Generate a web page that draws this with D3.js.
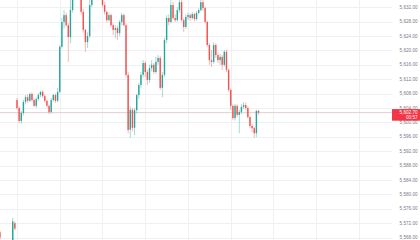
<!DOCTYPE html>
<html>
<head>
<meta charset="utf-8">
<script src="https://cdn.jsdelivr.net/npm/d3@7"></script>
<style>
  body { margin: 0; background: #ffffff; }
  #chart text { font-family: "Liberation Sans", Arial, sans-serif; }
</style>
</head>
<body>
<div id="chart"></div>
<script>
// Velas (1 min) - apertura, maximo, minimo, cierre
var opens  = [5569.5, 5566.8, 5563.5, 5562, 5564, 5565.5, 5566, 5572,
  5606.2, 5604, 5600.4, 5602.6, 5605.7, 5607, 5606, 5607.9, 5606.2, 5604.6,
  5606.5, 5607.6, 5608.5, 5607.3, 5606, 5604.6, 5602.9, 5606.2, 5607.6, 5606,
  5608.5, 5621, 5627.9, 5629.8, 5627, 5623.7, 5631.2, 5636, 5638, 5637,
  5635.5, 5630.7, 5625.7, 5622.3, 5624, 5632.6, 5636, 5638, 5640, 5639,
  5637, 5632.6, 5630.7, 5628.4, 5629.8, 5627, 5625.7, 5626.2, 5624.8, 5627.9,
  5629.8, 5627, 5613.2, 5598, 5603.5, 5598.5, 5603.4, 5607.6, 5610.4, 5613.2,
  5616.5, 5614, 5611.8, 5615.1, 5616, 5614, 5616.8, 5617.9, 5609.6, 5613.2,
  5622.9, 5629, 5627.9, 5632.6, 5629, 5628.4, 5631.2, 5633.4, 5628.4, 5626.5,
  5629.3, 5629.8, 5629, 5630.1, 5628.7, 5630.4, 5631.2, 5633.4, 5631.8, 5627.9,
  5621.5, 5617.3, 5616.8, 5621.5, 5618.7, 5617.3, 5618.2, 5616, 5619.6, 5614.6,
  5609, 5604.6, 5601.2, 5604.6, 5602.1, 5602.9, 5604.3, 5604.8, 5604, 5601.5,
  5599, 5598.4, 5597, 5603.2]
var highs  = [5570, 5567.1, 5565, 5564.5, 5566, 5566.5, 5573.5, 5572.5,
  5606.8, 5604.5, 5603.2, 5606.3, 5607.6, 5607.8, 5608.2, 5608.4, 5606.7, 5607,
  5608.2, 5608.7, 5608.9, 5607.8, 5606.4, 5605, 5606.8, 5607.9, 5608, 5609.6,
  5621.5, 5629, 5631.2, 5630.5, 5627.6, 5634.5, 5637, 5639, 5639.5, 5638,
  5636, 5631.5, 5626, 5625, 5634.5, 5637, 5639, 5641, 5641, 5640,
  5637.5, 5633.5, 5631, 5630.5, 5630.2, 5627.5, 5627, 5626.8, 5628.5, 5630.4,
  5630.2, 5627.5, 5614, 5604.5, 5604, 5604, 5608, 5611, 5614, 5617.3,
  5617, 5614.6, 5616, 5617.3, 5616.5, 5618.2, 5618.7, 5618.5, 5614, 5623.5,
  5629.8, 5630, 5634.2, 5633.5, 5630, 5632, 5635, 5634, 5629, 5630,
  5630.5, 5630.3, 5630.7, 5630.5, 5631, 5631.7, 5634.5, 5634.5, 5632.2, 5628.3,
  5622, 5620.1, 5622.3, 5622, 5619.3, 5619, 5618.7, 5620.1, 5620.2, 5615,
  5609.5, 5605, 5605.1, 5605, 5603.5, 5605.1, 5605.6, 5605.5, 5604.5, 5601.8,
  5599.5, 5598.8, 5603.5, 5603.5]
var lows   = [5567.5, 5562.5, 5561, 5560.5, 5563, 5563.5, 5565.5, 5570,
  5603.5, 5599.8, 5599.5, 5602, 5605, 5605.4, 5605.6, 5605.8, 5604.3, 5604,
  5606, 5607, 5606.8, 5605.5, 5604.2, 5602.3, 5602.5, 5605.8, 5605.4, 5605.6,
  5608, 5620.5, 5626, 5626.5, 5616.8, 5622, 5630.5, 5635, 5635.5, 5634.8,
  5630, 5625, 5619.6, 5620.7, 5623.5, 5632, 5635, 5637, 5638, 5636,
  5632, 5630, 5627.8, 5628, 5626.5, 5624.3, 5623.4, 5622.9, 5624, 5627,
  5626.5, 5612.5, 5597, 5595.7, 5597.5, 5596.5, 5602.5, 5606.5, 5609.5, 5612.5,
  5612.6, 5610.4, 5611, 5614.2, 5613.5, 5613.5, 5616, 5609, 5607, 5612.5,
  5622, 5627, 5627.5, 5628.5, 5627.9, 5628, 5630.5, 5628, 5625.1, 5626,
  5628.5, 5628.3, 5628.5, 5628, 5628.3, 5630, 5630.8, 5631, 5627.5, 5621,
  5616, 5615.4, 5616.3, 5617.9, 5616.5, 5616, 5614.6, 5615.5, 5614, 5608.5,
  5603.4, 5600.7, 5600.5, 5601.5, 5597, 5602.3, 5603.8, 5603.5, 5601, 5598.4,
  5597.3, 5595.7, 5595.9, 5602.2]
var closes = [5568, 5563.5, 5562, 5564, 5565.5, 5566, 5572.5, 5570.5,
  5604, 5600.4, 5602.6, 5605.7, 5607, 5606, 5607.9, 5606.2, 5604.6, 5606.5,
  5607.6, 5608.5, 5607.3, 5606, 5604.6, 5602.9, 5606.2, 5607.6, 5606, 5608.5,
  5621, 5627.9, 5629.8, 5627, 5623.7, 5631.2, 5636, 5638, 5637, 5635.5,
  5630.7, 5625.7, 5622.3, 5624, 5632.6, 5636, 5638, 5640, 5639, 5637,
  5632.6, 5630.7, 5628.4, 5629.8, 5627, 5625.7, 5626.2, 5624.8, 5627.9, 5629.8,
  5627, 5613.2, 5597.9, 5603.5, 5598.5, 5603.4, 5607.6, 5610.4, 5613.2, 5616.5,
  5614, 5611.8, 5615.1, 5616, 5614, 5616.8, 5617.9, 5609.6, 5613.2, 5622.9,
  5629, 5627.9, 5632.6, 5629, 5628.4, 5631.2, 5633.4, 5628.4, 5626.5, 5629.3,
  5629.8, 5629, 5630.1, 5628.7, 5630.4, 5631.2, 5633.4, 5631.8, 5627.9, 5621.5,
  5617.3, 5616.8, 5621.5, 5618.7, 5617.3, 5618.2, 5616, 5619.6, 5614.6, 5609,
  5604.6, 5601.2, 5604.6, 5602.1, 5602.9, 5604.3, 5604.8, 5604, 5601.5, 5599,
  5598.4, 5597, 5603.2, 5602.7]

// Etiquetas del eje de precios
var priceTicks = [5568, 5572, 5576, 5580, 5584, 5588, 5592, 5596, 5600,
  5604, 5608, 5612, 5616, 5620, 5624, 5628, 5632]
// Lineas verticales cada 20 velas
var timeTicks = [8, 28, 48, 68, 88, 108, 128, 148, 168]
var countdown = "00:57"

drawChart()

function drawChart() {
    //Crea Lienzo
    var width = 420
    var height = 240
    var plotRight = 392

    var svg = d3.select("#chart")
                .append("svg")
                .attr("width", width)
                .attr("height", height)

    var up = "#26a69a"
    var down = "#ef5350"

    //Escalas
    var x = d3.scaleLinear()
              .domain([0, 183])
              .range([-0.1, 391.06])
    var y = d3.scaleLinear()
              .domain([5634 - height / 3.6, 5634])
              .range([height, 0])

    svg.append("defs").append("clipPath")
       .attr("id", "plot")
       .append("rect")
       .attr("width", plotRight)
       .attr("height", height)

    //Cuadricula
    svg.append("g")
       .selectAll("line.h")
       .data(priceTicks)
       .enter()
       .append("line")
       .attr("x1", 0)
       .attr("x2", plotRight)
       .attr("y1", (d) => Math.round(y(d)) + 0.5)
       .attr("y2", (d) => Math.round(y(d)) + 0.5)
       .attr("stroke", "#eef0f3")
       .attr("stroke-width", 1)

    svg.append("g")
       .selectAll("line.v")
       .data(timeTicks)
       .enter()
       .append("line")
       .attr("x1", (d) => Math.round(x(d)) + 0.5)
       .attr("x2", (d) => Math.round(x(d)) + 0.5)
       .attr("y1", 0)
       .attr("y2", height)
       .attr("stroke", "#eef0f3")
       .attr("stroke-width", 1)

    //Linea del ultimo precio
    var last = closes.length - 1
    var lastPrice = closes[last]
    var lastUp = closes[last] >= opens[last]

    svg.append("line")
       .attr("x1", 0)
       .attr("x2", plotRight)
       .attr("y1", y(lastPrice))
       .attr("y2", y(lastPrice))
       .attr("stroke", "#dfcdcf")
       .attr("stroke-width", 1)

    //Velas
    var candles = d3.range(opens.length)
    var g = svg.append("g").attr("clip-path", "url(#plot)")

    g.selectAll("line.wick")
     .data(candles)
     .enter()
     .append("line")
     .attr("x1", (i) => x(i))
     .attr("x2", (i) => x(i))
     .attr("y1", (i) => y(highs[i]))
     .attr("y2", (i) => y(lows[i]))
     .attr("stroke", (i) => closes[i] >= opens[i] ? up : down)
     .attr("stroke-opacity", 0.7)
     .attr("stroke-width", 0.6)

    g.selectAll("rect.body")
     .data(candles)
     .enter()
     .append("rect")
     .attr("x", (i) => x(i) - 0.7)
     .attr("width", 1.4)
     .attr("y", (i) => y(Math.max(opens[i], closes[i])))
     .attr("height", (i) => Math.max(0.6, Math.abs(y(opens[i]) - y(closes[i]))))
     .attr("fill", (i) => closes[i] >= opens[i] ? up : down)

    //Eje de precios
    var fmt = d3.format(",.2f")
    svg.append("g")
       .selectAll("text")
       .data(priceTicks)
       .enter()
       .append("text")
       .attr("x", 417.5)
       .attr("y", (d) => y(d))
       .attr("dy", "0.35em")
       .attr("text-anchor", "end")
       .attr("font-size", 4.6)
       .attr("fill", "#787b86")
       .text((d) => fmt(d))

    //Etiqueta del ultimo precio
    var ly = y(lastPrice)
    svg.append("rect")
       .attr("x", 392)
       .attr("y", ly - 3.6)
       .attr("width", 28)
       .attr("height", 11.6)
       .attr("fill", lastUp ? "#089981" : "#f23645")

    svg.append("text")
       .attr("x", 417.5)
       .attr("y", ly)
       .attr("dy", "0.35em")
       .attr("text-anchor", "end")
       .attr("font-size", 4.6)
       .attr("fill", "#ffffff")
       .text(fmt(lastPrice))

    svg.append("text")
       .attr("x", 417.5)
       .attr("y", ly + 5)
       .attr("dy", "0.35em")
       .attr("text-anchor", "end")
       .attr("font-size", 4.6)
       .attr("fill", "#ffffff")
       .text(countdown)
}
</script>
</body>
</html>
